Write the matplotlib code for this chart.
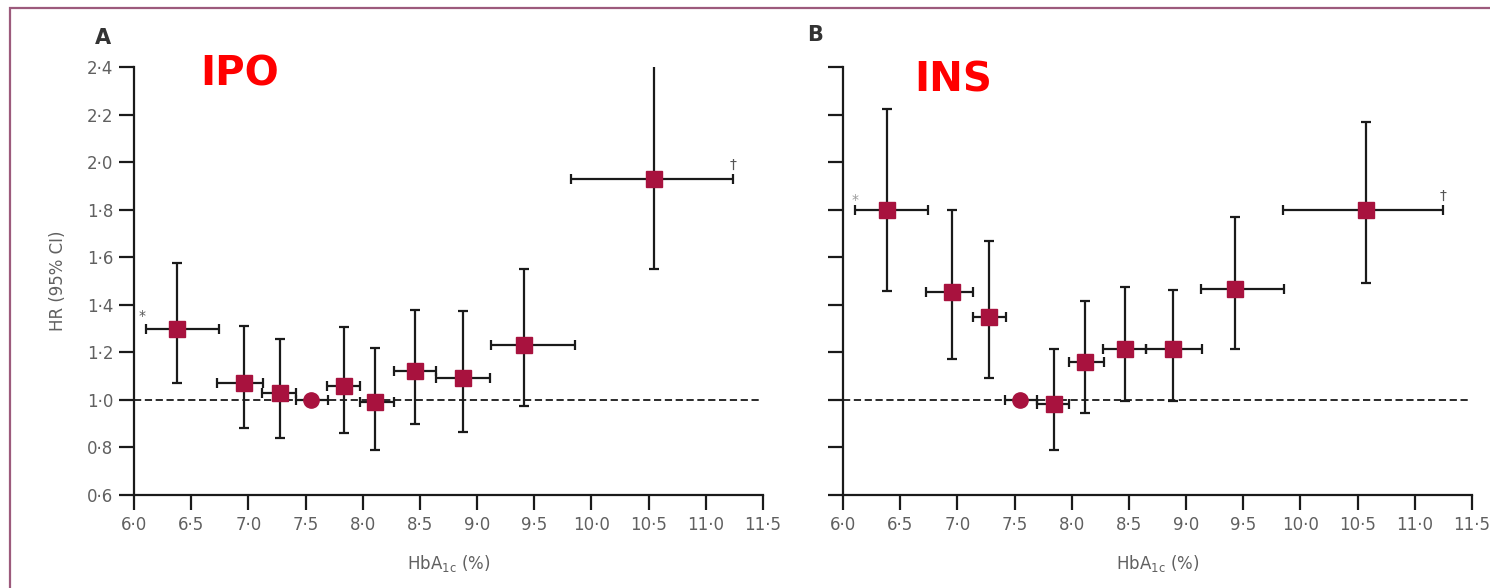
import matplotlib.pyplot as plt
from matplotlib.patches import Rectangle
from matplotlib.ticker import FuncFormatter, MultipleLocator

# Panel A (IPO)
a_x = [6.38, 6.96, 7.28, 7.55, 7.84, 8.11, 8.46, 8.875, 9.41, 10.545]
a_hr = [1.30, 1.07, 1.03, 1.00, 1.06, 0.99, 1.12, 1.09, 1.23, 1.93]
a_lo = [1.07, 0.88, 0.84, None, 0.86, 0.79, 0.90, 0.865, 0.975, 1.55]
a_hi = [1.575, 1.31, 1.255, None, 1.305, 1.22, 1.38, 1.375, 1.55, 2.42]
a_xlo = [6.105, 6.73, 7.12, 7.42, 7.69, 7.98, 8.27, 8.64, 9.12, 9.82]
a_xhi = [6.74, 7.13, 7.42, 7.70, 7.98, 8.27, 8.64, 9.11, 9.855, 11.24]

# Panel B (INS)
b_x = [6.385, 6.955, 7.275, 7.547, 7.845, 8.12, 8.465, 8.885, 9.427, 10.57]
b_hr = [1.80, 1.455, 1.35, 1.00, 0.983, 1.16, 1.215, 1.215, 1.465, 1.80]
b_lo = [1.458, 1.172, 1.092, None, 0.79, 0.945, 0.995, 0.997, 1.215, 1.493]
b_hi = [2.223, 1.80, 1.668, None, 1.214, 1.416, 1.475, 1.464, 1.77, 2.17]
b_xlo = [6.105, 6.73, 7.14, 7.42, 7.70, 7.975, 8.27, 8.65, 9.13, 9.85]
b_xhi = [6.74, 7.14, 7.425, 7.70, 7.975, 8.28, 8.65, 9.14, 9.855, 11.245]

marker_col = '#A8123E'
tick_col = '#606060'

fig = plt.figure(figsize=(14.9, 5.88), dpi=100)
ax_a = fig.add_axes([134/1490, 1-495/588, 629/1490, 428/588])
ax_b = fig.add_axes([843/1490, 1-495/588, 629/1490, 428/588])

dot_fmt = FuncFormatter(lambda v, p: f'{v:.1f}'.replace('.', '·'))


def draw_panel(ax, x, hr, lo, hi, xlo, xhi, show_ylabels):
    for i in range(len(x)):
        xerr = [[x[i] - xlo[i]], [xhi[i] - x[i]]]
        if lo[i] is None:
            # reference category: no vertical CI, round marker
            ax.errorbar(x[i], hr[i], xerr=xerr, fmt='none', ecolor='#1a1a1a',
                        elinewidth=1.6, capsize=3.5, capthick=1.6, zorder=3)
            ax.plot(x[i], hr[i], 'o', ms=11, color=marker_col, zorder=4)
        else:
            yerr = [[hr[i] - lo[i]], [hi[i] - hr[i]]]
            ax.errorbar(x[i], hr[i], xerr=xerr, yerr=yerr, fmt='none', ecolor='#1a1a1a',
                        elinewidth=1.6, capsize=3.5, capthick=1.6, zorder=3)
            ax.plot(x[i], hr[i], 's', ms=11, color=marker_col, zorder=4)
    ax.hlines(1.0, 6.0, 11.47, colors='#1a1a1a', linestyles=(0, (4, 2)), lw=1.3, zorder=2)
    ax.set_xlim(6.0, 11.5)
    ax.set_ylim(0.6, 2.4)
    for s in ['top', 'right']:
        ax.spines[s].set_visible(False)
    for s in ['left', 'bottom']:
        ax.spines[s].set_linewidth(1.6)
        ax.spines[s].set_color('#1a1a1a')
    ax.xaxis.set_major_locator(MultipleLocator(0.5))
    ax.yaxis.set_major_locator(MultipleLocator(0.2))
    ax.xaxis.set_major_formatter(dot_fmt)
    ax.yaxis.set_major_formatter(dot_fmt)
    ax.tick_params(axis='both', length=11, width=1.6, color='#1a1a1a',
                   labelsize=12, labelcolor=tick_col, pad=4)
    if not show_ylabels:
        ax.tick_params(axis='y', labelleft=False)
    ax.set_xlabel('HbA$_{\\mathrm{1c}}$ (%)', fontsize=12, color=tick_col, labelpad=14)
    ax.set_facecolor('none')


draw_panel(ax_a, a_x, a_hr, a_lo, a_hi, a_xlo, a_xhi, True)
draw_panel(ax_b, b_x, b_hr, b_lo, b_hi, b_xlo, b_xhi, False)
ax_a.set_ylabel('HR (95% CI)', fontsize=12, color=tick_col, labelpad=14)

# footnote markers
ax_a.annotate('*', (a_xlo[0], a_hr[0]), xytext=(-3, 6), textcoords='offset points',
              fontsize=10, color='#555555', ha='center')
ax_a.annotate('†', (a_xhi[-1], a_hr[-1]), xytext=(0, 7), textcoords='offset points',
              fontsize=10, color='#555555', ha='center')
ax_b.annotate('*', (b_xlo[0], b_hr[0]), xytext=(0, 4), textcoords='offset points',
              fontsize=10, color='#999999', ha='center')
ax_b.annotate('†', (b_xhi[-1], b_hr[-1]), xytext=(0, 7), textcoords='offset points',
              fontsize=10, color='#555555', ha='center')

# panel letters and titles
fig.text(103/1490, 1-38/588, 'A', fontsize=15, fontweight='bold', color='#333333',
         ha='center', va='center')
fig.text(815/1490, 1-35/588, 'B', fontsize=15, fontweight='bold', color='#333333',
         ha='center', va='center')
fig.text(240/1490, 1-74/588, 'IPO', fontsize=29, fontweight='bold', color='#ff0000',
         ha='center', va='center')
fig.text(953/1490, 1-80/588, 'INS', fontsize=29, fontweight='bold', color='#ff0000',
         ha='center', va='center')

# frame
fig.patches.append(Rectangle((10/1490, -0.05), 1.1, 1-8/588+0.05, transform=fig.transFigure,
                             fill=False, edgecolor='#9c5a7c', lw=1.6, clip_on=False))

fig.savefig('out.png', dpi=100)
